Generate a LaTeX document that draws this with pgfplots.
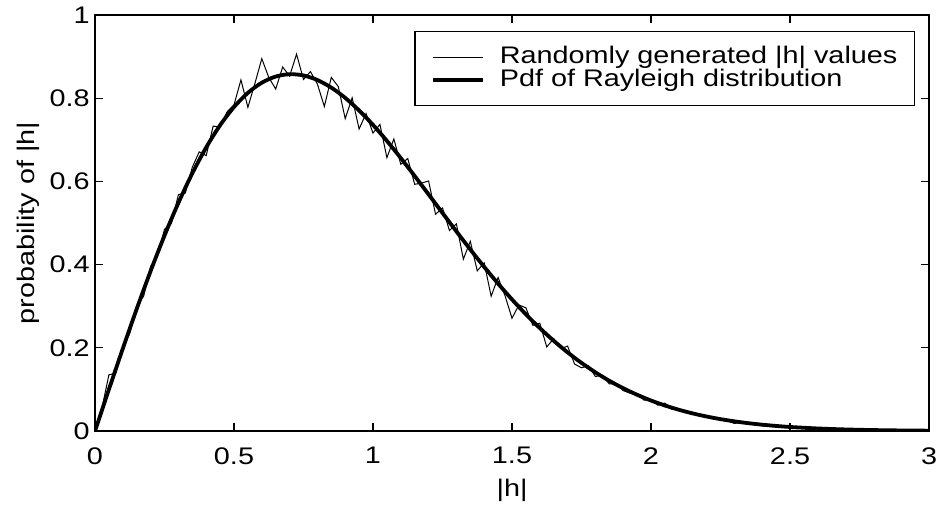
\documentclass[border=0pt]{standalone}
\usepackage{fontspec}
\setmainfont{Liberation Sans}[FakeStretch=1.2]
\usepackage{pgfplots}
\pgfplotsset{compat=1.18}
\begin{document}
\fontsize{12}{14}\selectfont
\begin{tikzpicture}
\begin{axis}[
  at={(0,0)}, anchor=south west,
  scale only axis,
  width=417pt, height=208pt,
  xmin=0, xmax=3, ymin=0, ymax=1,
  xtick={0,0.5,1,1.5,2,2.5,3},
  ytick={0,0.2,0.4,0.6,0.8,1},
  xticklabels={0,0.5,1,1.5,2,2.5,3},
  yticklabels={0,0.2,0.4,0.6,0.8,1},
  tick align=inside,
  major tick length=4pt,
  tick style={black, line width=0.6pt},
  axis line style={line width=0.8pt},
  tick label style={font=\fontsize{12}{14}\selectfont},
  xticklabel style={yshift=-4pt},
  yticklabel style={xshift=1.5pt},
  label style={font=\fontsize{12}{14}\selectfont},
  /pgf/number format/assume math mode=true,
  xlabel={|h|}, ylabel={probability of |h|},
  xlabel style={at={(axis description cs:0.5,0)}, anchor=center, yshift=-29.5pt},
  ylabel style={at={(axis description cs:0,0.5)}, anchor=center, yshift=33.5pt},
  legend style={at={(1,1)}, xshift=-7pt, yshift=-8pt, anchor=north east,
    draw=black, line width=0.6pt, font=\fontsize{12}{14}\selectfont,
    inner xsep=8pt, inner ysep=7pt, row sep=0pt, column sep=0pt,
    nodes={inner sep=0.5pt}},
  legend cell align=left,
  legend image code/.code={\draw[#1] (0cm,0cm) -- (25pt,0cm);},
  legend style={/tikz/every odd column/.append style={column sep=7pt}},
]
\addplot[black, line width=0.5pt] coordinates {
(0.000,0) (0.025,0.055) (0.050,0.135) (0.075,0.139) (0.100,0.203) (0.125,0.234)
(0.150,0.301) (0.175,0.324) (0.200,0.396) (0.225,0.421) (0.250,0.485) (0.275,0.499)
(0.300,0.568) (0.325,0.572) (0.350,0.634) (0.375,0.671) (0.400,0.662) (0.425,0.733)
(0.450,0.730) (0.475,0.767) (0.500,0.784) (0.525,0.844) (0.550,0.778) (0.575,0.835)
(0.600,0.895) (0.625,0.850) (0.650,0.822) (0.675,0.875) (0.700,0.853) (0.725,0.906)
(0.750,0.845) (0.775,0.864) (0.800,0.834) (0.825,0.780) (0.850,0.850) (0.875,0.828)
(0.900,0.751) (0.925,0.801) (0.950,0.726) (0.975,0.763) (1.000,0.716) (1.025,0.737)
(1.050,0.657) (1.075,0.702) (1.100,0.641) (1.125,0.655) (1.150,0.593) (1.175,0.596)
(1.200,0.601) (1.225,0.521) (1.250,0.536) (1.275,0.482) (1.300,0.498) (1.325,0.413)
(1.350,0.456) (1.375,0.385) (1.400,0.404) (1.425,0.324) (1.450,0.369) (1.475,0.325)
(1.500,0.271) (1.525,0.303) (1.550,0.296) (1.575,0.254) (1.600,0.259) (1.625,0.202)
(1.650,0.222) (1.675,0.198) (1.700,0.204) (1.725,0.161) (1.750,0.152) (1.775,0.157)
(1.800,0.131) (1.825,0.134) (1.850,0.113) (1.875,0.114) (1.900,0.097) (1.925,0.091)
(1.950,0.090) (1.975,0.074) (2.000,0.075) (2.025,0.062) (2.050,0.067) (2.075,0.052)
(2.100,0.053) (2.125,0.044) (2.150,0.045) (2.175,0.035) (2.200,0.037) (2.225,0.030)
(2.250,0.030) (2.275,0.025) (2.300,0.018) (2.325,0.022) (2.350,0.017) (2.375,0.018)
(2.400,0.012) (2.425,0.015) (2.450,0.010) (2.475,0.011) (2.500,0.008) (2.525,0.009)
(2.550,0.006)
};
\addlegendentry{Randomly generated |h| values}
\addplot[black, line width=1.9pt, smooth] coordinates {
(0,0) (0.05,0.09975) (0.1,0.19801) (0.15,0.29333) (0.2,0.38432) (0.25,0.46971)
(0.3,0.54836) (0.35,0.61929) (0.4,0.68172) (0.45,0.73502) (0.5,0.77880) (0.55,0.81287)
(0.6,0.83721) (0.65,0.85203) (0.7,0.85768) (0.75,0.85467) (0.8,0.84367) (0.85,0.82541)
(0.9,0.80074) (0.95,0.77055) (1.0,0.73576) (1.05,0.69738) (1.1,0.65603) (1.15,0.61288)
(1.2,0.56863) (1.25,0.52403) (1.3,0.47975) (1.35,0.43636) (1.4,0.39440) (1.45,0.35424)
(1.5,0.31620) (1.55,0.28047) (1.6,0.24738) (1.65,0.21691) (1.7,0.18896) (1.75,0.16370)
(1.8,0.14099) (1.85,0.12072) (1.9,0.10280) (1.95,0.08704) (2.0,0.07326) (2.05,0.06132)
(2.1,0.05105) (2.15,0.04226) (2.2,0.03479) (2.25,0.02849) (2.3,0.02319) (2.35,0.01878)
(2.4,0.01512) (2.45,0.01212) (2.5,0.00965) (2.6,0.00603) (2.7,0.00369) (2.8,0.00221)
(2.9,0.00129) (3.0,0.00074)
};
\addlegendentry{Pdf of Rayleigh distribution}
\end{axis}
\pgfresetboundingbox
\useasboundingbox (-47.5pt,-37.5pt) rectangle (421pt,215.5pt);
\end{tikzpicture}
\end{document}
